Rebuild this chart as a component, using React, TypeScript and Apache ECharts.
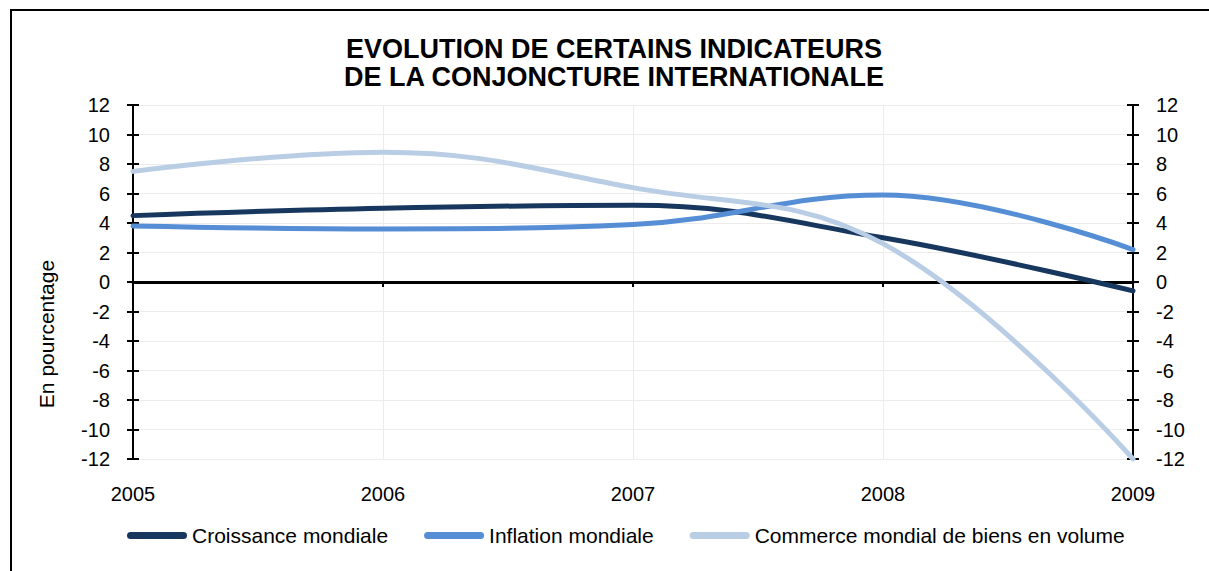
import React, { useEffect, useRef } from "react";
import * as echarts from "echarts";

const years = ["2005", "2006", "2007", "2008", "2009"];
const croissance = [4.5, 5.0, 5.2, 3.0, -0.6];
const inflation = [3.8, 3.6, 3.9, 5.9, 2.2];
const commerce = [7.5, 8.8, 6.4, 2.6, -12];
const seriesNames = [
  "Croissance mondiale",
  "Inflation mondiale",
  "Commerce mondial de biens en volume",
];
const colors = ["#17375E", "#558ED5", "#B9CDE5"];
const titleText = "EVOLUTION DE CERTAINS INDICATEURS\nDE LA CONJONCTURE INTERNATIONALE";
const yName = "En pourcentage";

const FONT = "Liberation Sans, Arial, sans-serif";

export default function App() {
  const ref = useRef<HTMLDivElement>(null);
  useEffect(() => {
    if (!ref.current) return;
    const chart = echarts.init(ref.current, null, { renderer: "svg" });
    const yBase = { type: "value", min: -12, max: 12, interval: 2 };
    const labelStyle = { color: "#000", fontSize: 20, fontFamily: FONT };
    const option: any = {
      animation: false,
      backgroundColor: "#fff",
      title: {
        text: titleText,
        left: 609,
        textAlign: "center",
        top: 30,
        textStyle: {
          fontFamily: FONT,
          fontSize: 27,
          fontWeight: "bold",
          lineHeight: 28,
          color: "#000",
        },
      },
      grid: { left: 133, right: 76, top: 105, bottom: 112 },
      legend: {
        left: 122,
        top: 520,
        itemWidth: 60,
        itemHeight: 7,
        itemGap: 36,
        icon: "path://M3.5,0 L56.5,0 A3.5,3.5 0 0 1 56.5,7 L3.5,7 A3.5,3.5 0 0 1 3.5,0 Z",
        textStyle: { color: "#000", fontFamily: FONT, fontSize: 21, padding: [0, 0, 0, 0] },
        data: seriesNames,
      },
      xAxis: [
        {
          type: "category",
          data: years,
          boundaryGap: false,
          axisLine: { onZero: true, lineStyle: { color: "#000", width: 3 } },
          axisTick: { show: true, length: 5, lineStyle: { color: "#000", width: 2 } },
          axisLabel: { show: false },
          splitLine: { show: true, lineStyle: { color: "#ececec", width: 1 } },
        },
        {
          type: "category",
          data: years,
          boundaryGap: false,
          position: "bottom",
          axisLine: { show: false, onZero: false },
          axisTick: { show: false },
          axisLabel: { ...labelStyle, margin: 25, verticalAlign: "top" },
          splitLine: { show: false },
        },
      ],
      yAxis: [
        {
          ...yBase,
          position: "left",
          axisLine: { show: true, lineStyle: { color: "#000", width: 2 } },
          axisTick: { show: true, length: 6, lineStyle: { color: "#000", width: 2 } },
          axisLabel: { ...labelStyle, margin: 23 },
          splitLine: { show: true, lineStyle: { color: "#ececec", width: 1 } },
        },
        {
          ...yBase,
          position: "left",
          axisLine: { show: false },
          axisTick: { show: true, inside: true, length: 6, lineStyle: { color: "#000", width: 2 } },
          axisLabel: { show: false },
          splitLine: { show: false },
        },
        {
          ...yBase,
          position: "right",
          axisLine: { show: true, lineStyle: { color: "#000", width: 2 } },
          axisTick: { show: true, length: 6, lineStyle: { color: "#000", width: 2 } },
          axisLabel: { ...labelStyle, margin: 23 },
          splitLine: { show: false },
        },
        {
          ...yBase,
          position: "right",
          axisLine: { show: false },
          axisTick: { show: true, inside: true, length: 6, lineStyle: { color: "#000", width: 2 } },
          axisLabel: { show: false },
          splitLine: { show: false },
        },
      ],
      series: [croissance, inflation, commerce].map((d, i) => ({
        name: seriesNames[i],
        type: "line",
        data: d,
        xAxisIndex: 0,
        yAxisIndex: 0,
        smooth: 0.4,
        symbol: "none",
        color: colors[i],
        lineStyle: { color: colors[i], width: 5, cap: "round" },
      })),
      graphic: [
        {
          type: "rect",
          shape: { x: 11, y: 10, width: 1250, height: 620 },
          style: { fill: "none", stroke: "#000", lineWidth: 2 },
          silent: true,
          z: 100,
        },
        {
          type: "text",
          x: 36,
          y: 334,
          rotation: Math.PI / 2,
          style: {
            text: yName,
            fontFamily: FONT,
            fontSize: 21,
            fill: "#000",
            align: "center",
            verticalAlign: "top",
          },
        },
      ],
    };
    chart.setOption(option);
    return () => chart.dispose();
  }, []);
  return (
    <div
      ref={ref}
      style={{ position: "fixed", left: 0, top: 0, width: 1209, height: 571 }}
    />
  );
}
